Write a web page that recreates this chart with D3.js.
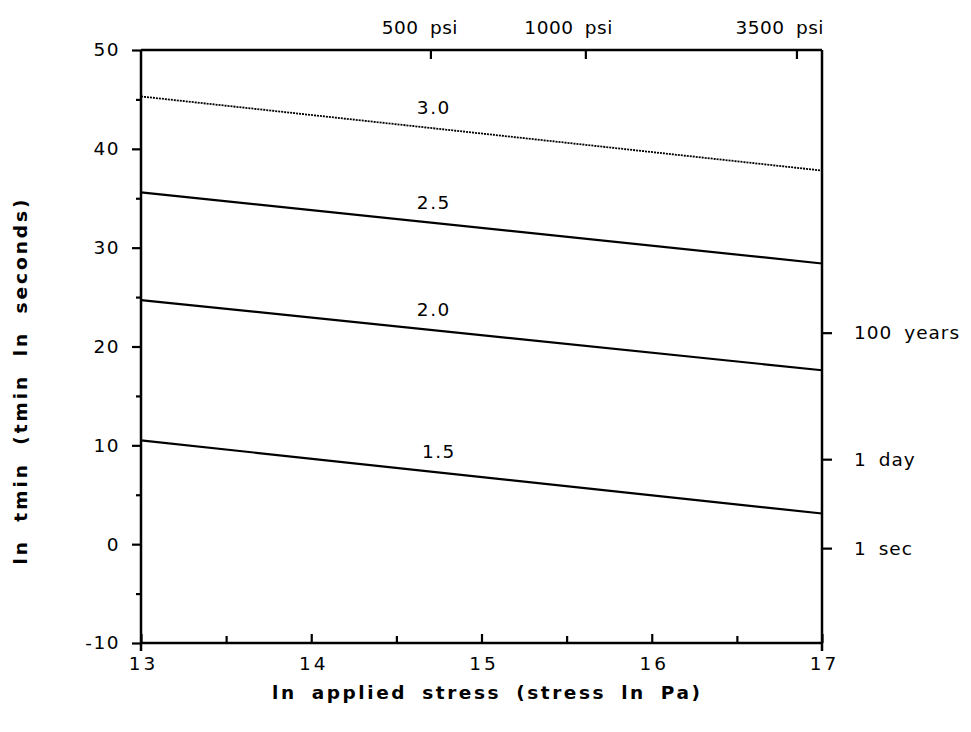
<!DOCTYPE html>
<html><head><meta charset="utf-8">
<script src="https://cdn.jsdelivr.net/npm/d3@7"></script>
<style>body{margin:0;background:#fff}svg{display:block}text{font-family:"DejaVu Sans",Verdana,sans-serif;fill:#000}</style>
</head><body><svg id="c" width="971" height="732"></svg>
<script>
// Data
const curveLabels = ["3.0", "2.5", "2.0", "1.5"];
const xEnds = [13, 17];
const yStart = [45.3, 35.6, 24.7, 10.5];
const yEnd = [37.8, 28.4, 17.6, 3.1];
const labelX = [14.72, 14.72, 14.72, 14.75];
const xTicks = [13, 14, 15, 16, 17];
const xMinorTicks = [13.5, 14.5, 15.5, 16.5];
const yTicks = [-10, 0, 10, 20, 30, 40, 50];
const yMinorTicks = [-5, 5, 15, 25, 35, 45];
const topTickVals = [14.70, 15.61, 16.85];
const topTickLabels = ["500 psi", "1000 psi", "3500 psi"];
const rightTickVals = [21.4, 8.6, -0.4];
const rightTickLabels = ["100 years", "1 day", "1 sec"];

const svg = d3.select("#c");
const L = 141, R = 822, T = 50, B = 643;
const x = d3.scaleLinear().domain([13, 17]).range([L, R]);
const y = d3.scaleLinear().domain([-10, 50]).range([B, T]);

const fs = 18.5;
function styleText(sel, ls) {
  sel.attr("font-size", fs).attr("letter-spacing", ls).attr("word-spacing", 5);
}
// frame lines
const g = svg.append("g");
g.append("line").attr("x1", L).attr("x2", R).attr("y1", T).attr("y2", T).attr("stroke", "#000").attr("stroke-width", 2.5);
g.append("line").attr("x1", L).attr("x2", R).attr("y1", B).attr("y2", B).attr("stroke", "#000").attr("stroke-width", 2.5);
g.append("line").attr("x1", L).attr("x2", L).attr("y1", T).attr("y2", B + 8).attr("stroke", "#000").attr("stroke-width", 2.5);
g.append("line").attr("x1", R).attr("x2", R).attr("y1", T).attr("y2", B + 8).attr("stroke", "#000").attr("stroke-width", 2.5);

// bottom axis (ticks inward)
const xAxis = d3.axisBottom(x).tickValues(xTicks).tickFormat(d => String(d)).tickSize(-9).tickPadding(14);
const gx = svg.append("g").attr("transform", `translate(0,${B})`).call(xAxis);
gx.select(".domain").remove();
gx.selectAll("line").attr("stroke-width", 2.2);
styleText(gx.selectAll("text"), 3);
gx.selectAll("text").attr("dx", "2");
const gxm = svg.append("g").attr("transform", `translate(0,${B})`).call(d3.axisBottom(x).tickValues(xMinorTicks).tickSize(-7).tickFormat(""));
gxm.select(".domain").remove();
gxm.selectAll("line").attr("stroke-width", 2.2);

// left axis (ticks outward)
const yAxis = d3.axisLeft(y).tickValues(yTicks).tickFormat(d => String(d)).tickSize(9).tickPadding(12);
const gy = svg.append("g").attr("transform", `translate(${L},0)`).call(yAxis);
gy.select(".domain").remove();
gy.selectAll("line").attr("stroke-width", 2.2);
styleText(gy.selectAll("text"), 1.5);
const gym = svg.append("g").attr("transform", `translate(${L},0)`).call(d3.axisLeft(y).tickValues(yMinorTicks).tickSize(5).tickFormat(""));
gym.select(".domain").remove();
gym.selectAll("line").attr("stroke-width", 2.2);

// top axis (ticks inward)
const gt = svg.append("g").attr("transform", `translate(0,${T})`).call(
  d3.axisTop(x).tickValues(topTickVals).tickSize(-9).tickFormat((d, i) => topTickLabels[i]).tickPadding(16));
gt.select(".domain").remove();
gt.selectAll("line").attr("stroke-width", 2.2);
styleText(gt.selectAll("text"), 0.5);
gt.selectAll("text").attr("text-anchor", "end").attr("dx", "27");

// right axis (ticks outward)
const gr = svg.append("g").attr("transform", `translate(${R},0)`).call(
  d3.axisRight(y).tickValues(rightTickVals).tickSize(10).tickPadding(22).tickFormat((d, i) => rightTickLabels[i]));
gr.select(".domain").remove();
gr.selectAll("line").attr("stroke-width", 2.2);
styleText(gr.selectAll("text"), 1);

// curves
const line = d3.line().x(d => x(d[0])).y(d => y(d[1]));
curveLabels.forEach((lab, i) => {
  svg.append("path").datum([[xEnds[0], yStart[i]], [xEnds[1], yEnd[i]]])
    .attr("d", line).attr("fill", "none").attr("stroke", "#000")
    .attr("stroke-width", i === 0 ? 1.8 : 2.2)
    .attr("stroke-dasharray", i === 0 ? "2,1" : null);
  const lv = yStart[i] + (yEnd[i] - yStart[i]) * (labelX[i] - 13) / 4;
  const t = svg.append("text").attr("x", x(labelX[i])).attr("y", y(lv) - 14)
    .attr("text-anchor", "middle").text(lab);
  styleText(t, 1.5);
});

// axis titles
svg.append("text").attr("x", 486).attr("y", 699).attr("text-anchor", "middle")
  .attr("font-size", 18.5).attr("font-weight", "bold").attr("word-spacing", 6)
  .attr("textLength", 428).attr("lengthAdjust", "spacing")
  .text("ln applied stress (stress ln Pa)");
svg.append("text").attr("transform", "translate(27,382) rotate(-90)").attr("text-anchor", "middle")
  .attr("font-size", 18.5).attr("font-weight", "bold").attr("word-spacing", 8)
  .attr("textLength", 365).attr("lengthAdjust", "spacing")
  .text("ln tmin (tmin ln seconds)");
</script></body></html>
